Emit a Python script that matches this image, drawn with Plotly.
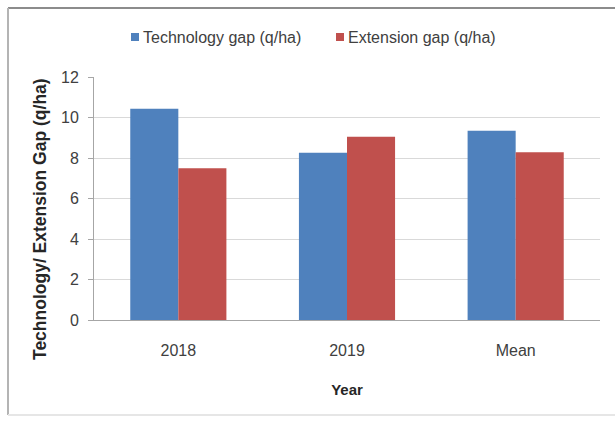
import plotly.graph_objects as go

# Yield gap data (q/ha)
years = ["2018", "2019", "Mean"]
technology_gap = [10.43, 8.26, 9.35]
extension_gap = [7.50, 9.05, 8.28]
y_ticks = [0, 2, 4, 6, 8, 10, 12]

series_names = ["Technology gap (q/ha)", "Extension gap (q/ha)"]
series_colors = ["#4F81BD", "#C0504D"]

W, H = 615, 421
ML, MR, MT, MB = 94, 15, 77, 101
PW = W - ML - MR
PH = H - MT - MB


def px_x(p):
    return (p - ML) / PW


def px_y(p):
    return 1 - (p - MT) / PH


font_family = "Liberation Sans"
text_color = "#404040"

fig = go.Figure()
for vals, name, color in zip([technology_gap, extension_gap], series_names, series_colors):
    fig.add_trace(go.Bar(x=years, y=vals, name=name, showlegend=False,
                         marker=dict(color=color, line=dict(width=0))))

fig.update_layout(
    width=W, height=H,
    margin=dict(l=ML, r=MR, t=MT, b=MB),
    paper_bgcolor="white", plot_bgcolor="white",
    barmode="group", bargap=0.43, bargroupgap=0,
    font=dict(family=font_family, size=16, color=text_color),
    xaxis=dict(
        showgrid=False, showline=True, linecolor="#a6a6a6", linewidth=1,
        ticks="", tickfont=dict(size=16, color=text_color), ticklabelstandoff=16,
        title=dict(text="<b>Year</b>", font=dict(size=15, color="#262626"), standoff=26),
    ),
    yaxis=dict(
        range=[0, 12], tickvals=y_ticks, showgrid=True, gridcolor="#d9d9d9", gridwidth=1,
        showline=True, linecolor="#a6a6a6", linewidth=1,
        ticks="outside", ticklen=5, tickcolor="#a6a6a6", ticklabelstandoff=6,
        tickfont=dict(size=16, color=text_color), zeroline=False,
    ),
)

annotations = []
shapes = []

# Vertical axis title, set a little below the plot's mid-height
annotations.append(dict(text="<b>Technology/ Extension Gap (q/ha)</b>", xref="paper", yref="paper",
                        x=px_x(40), y=px_y(219), xanchor="center", yanchor="middle",
                        textangle=-90, showarrow=False,
                        font=dict(size=17.5, color="#262626")))

# Legend drawn as coloured squares with labels above the plot
legend_x = [131, 336]
for x0, name, color in zip(legend_x, series_names, series_colors):
    shapes.append(dict(type="rect", xref="paper", yref="paper",
                       x0=px_x(x0), x1=px_x(x0 + 8), y0=px_y(33), y1=px_y(41),
                       fillcolor=color, line=dict(width=0)))
    annotations.append(dict(text=name, xref="paper", yref="paper",
                            x=px_x(x0 + 10), y=px_y(37), xanchor="left", yanchor="middle",
                            showarrow=False, font=dict(size=16, color=text_color)))

# Chart frame
shapes += [
    dict(type="line", xref="paper", yref="paper", x0=px_x(8), x1=px_x(620), y0=px_y(8), y1=px_y(8),
         line=dict(color="#8c8c8c", width=2)),
    dict(type="line", xref="paper", yref="paper", x0=px_x(8), x1=px_x(8), y0=px_y(8), y1=px_y(415),
         line=dict(color="#b4b4b4", width=2)),
    dict(type="line", xref="paper", yref="paper", x0=px_x(8), x1=px_x(620), y0=px_y(415), y1=px_y(415),
         line=dict(color="#e6e6e6", width=2)),
]
fig.update_layout(shapes=shapes, annotations=annotations)

fig.write_html("out.html")
